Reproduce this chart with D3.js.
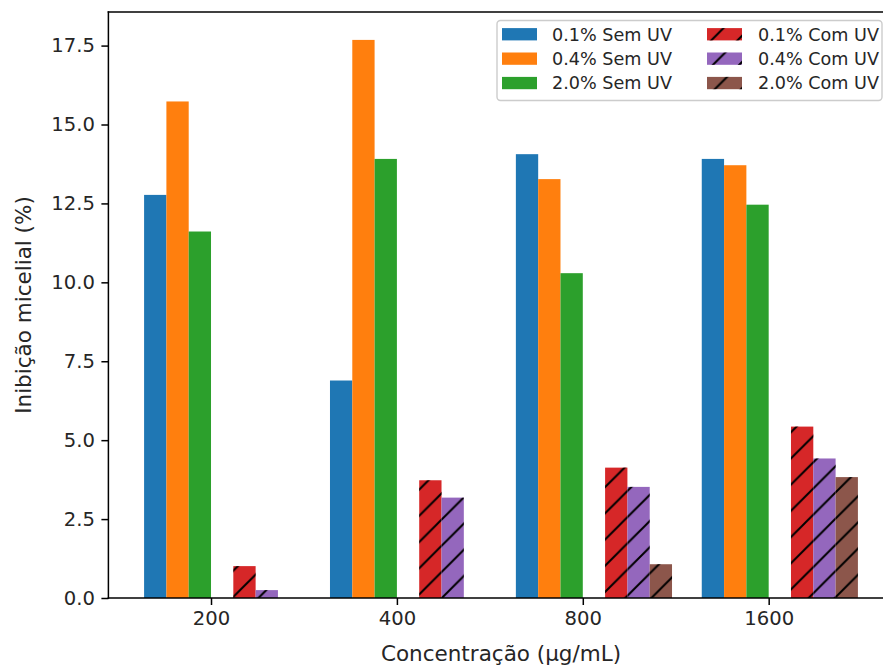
<!DOCTYPE html>
<html>
<head>
<meta charset="utf-8">
<script src="https://cdn.jsdelivr.net/npm/d3@7"></script>
<style>
  html, body { margin: 0; padding: 0; background: #fff; }
  svg { display: block; }
  text { font-family: "DejaVu Sans", sans-serif; fill: #262626; }
</style>
</head>
<body>
<svg id="chart" width="883" height="666"></svg>
<script>
// Concentrations on the x axis
const categories = ["200", "400", "800", "1600"];

// Mycelial inhibition (%) per concentration
const sem01 = [12.77, 6.89, 14.06, 13.91];
const sem04 = [15.73, 17.68, 13.27, 13.71];
const sem20 = [11.61, 13.91, 10.29, 12.46];
const com01 = [1.01, 3.73, 4.13, 5.43];
const com04 = [0.25, 3.18, 3.52, 4.42];
const com20 = [0.0, 0.0, 1.07, 3.83];

const yTicks = [0, 2.5, 5, 7.5, 10, 12.5, 15, 17.5];

const seriesNames = ["0.1% Sem UV", "0.4% Sem UV", "2.0% Sem UV",
                     "0.1% Com UV", "0.4% Com UV", "2.0% Com UV"];
const seriesValues = [sem01, sem04, sem20, com01, com04, com20];
const seriesColors = ["#1f77b4", "#ff7f0e", "#2ca02c", "#d62728", "#9467bd", "#8c564b"];
const seriesHatched = [false, false, false, true, true, true];
const seriesOffsets = [-3, -2, -1, 1, 2, 3];   // bar left edge, in bar widths from the tick
const barWidth = 0.12;

const svg = d3.select("#chart");

const plot = { left: 108.4, right: 893.6, top: 12, bottom: 598 };

// x: category index; padded 5% around the bar extent
const xMinData = -3 * barWidth, xMaxData = 3 + 4 * barWidth;
const xPad = 0.05 * (xMaxData - xMinData);
const x = d3.scaleLinear()
  .domain([xMinData - xPad, xMaxData + xPad])
  .range([plot.left, plot.right]);

const yMax = d3.max(seriesValues.flat()) * 1.05;
const y = d3.scaleLinear().domain([0, yMax]).range([plot.bottom, plot.top]);

// Diagonal hatch pattern, shared across bars so lines run continuously
const P = 26.2;
const defs = svg.append("defs");
const pat = defs.append("pattern")
  .attr("id", "hatch")
  .attr("patternUnits", "userSpaceOnUse")
  .attr("width", P).attr("height", P)
  .attr("patternTransform", "translate(18,0)");
pat.append("path")
  .attr("d", `M-1,${P + 1}L${P + 1},-1M${-P / 2 - 1},${P / 2 + 1}L${P / 2 + 1},${-P / 2 - 1}M${P / 2 - 1},${1.5 * P + 1}L${1.5 * P + 1},${P / 2 - 1}`)
  .attr("stroke", "#000").attr("stroke-width", 2).attr("fill", "none");

defs.append("clipPath").attr("id", "plotclip")
  .append("rect")
  .attr("x", plot.left).attr("y", plot.top)
  .attr("width", plot.right - plot.left).attr("height", plot.bottom - plot.top);

// Bars
const barsG = svg.append("g").attr("clip-path", "url(#plotclip)");
seriesValues.forEach((vals, si) => {
  const g = barsG.append("g");
  vals.forEach((v, ci) => {
    const x0 = x(ci + seriesOffsets[si] * barWidth);
    const x1 = x(ci + (seriesOffsets[si] + 1) * barWidth);
    g.append("rect")
      .attr("x", x0).attr("y", y(v))
      .attr("width", x1 - x0).attr("height", y(0) - y(v))
      .attr("fill", seriesColors[si]);
    if (seriesHatched[si] && v > 0) {
      g.append("rect")
        .attr("x", x0).attr("y", y(v))
        .attr("width", x1 - x0).attr("height", y(0) - y(v))
        .attr("fill", "url(#hatch)");
    }
  });
});

// Axes
const tickFont = 19.6;
const yAxis = d3.axisLeft(y).tickValues(yTicks).tickFormat(d3.format(".1f"))
  .tickSize(7).tickPadding(6.5);
const yG = svg.append("g").attr("transform", `translate(${plot.left},0)`).call(yAxis);

const xAxis = d3.axisBottom(x).tickValues(d3.range(categories.length))
  .tickFormat(i => categories[i]).tickSize(7).tickPadding(6.5);
const xG = svg.append("g").attr("transform", `translate(0,${plot.bottom})`).call(xAxis);

[yG, xG].forEach(g => {
  g.select(".domain").remove();
  g.selectAll(".tick line").attr("stroke", "#000").attr("stroke-width", 1.5);
  g.selectAll(".tick text").attr("fill", "#262626")
    .style("font-family", "DejaVu Sans").style("font-size", tickFont + "px");
});

// Spines
const spines = svg.append("g").attr("stroke", "#000").attr("stroke-width", 1.5)
  .attr("fill", "none").attr("stroke-linecap", "square");
spines.append("line").attr("x1", plot.left).attr("x2", plot.left).attr("y1", plot.top).attr("y2", plot.bottom);
spines.append("line").attr("x1", plot.left).attr("x2", plot.right).attr("y1", plot.bottom).attr("y2", plot.bottom);
spines.append("line").attr("x1", plot.left).attr("x2", plot.right).attr("y1", plot.top).attr("y2", plot.top);
spines.append("line").attr("x1", plot.right).attr("x2", plot.right).attr("y1", plot.top).attr("y2", plot.bottom);

// Axis titles
const labelFont = 21.5;
svg.append("text")
  .attr("x", (plot.left + plot.right) / 2).attr("y", 661)
  .attr("text-anchor", "middle")
  .style("font-size", labelFont + "px")
  .text("Concentração (µg/mL)");

svg.append("text")
  .attr("transform", `translate(31,${(plot.top + plot.bottom) / 2}) rotate(-90)`)
  .attr("text-anchor", "middle")
  .style("font-size", labelFont + "px")
  .text("Inibição micelial (%)");

// Legend, two columns
const legFont = 17.6;
const leg = svg.append("g");
leg.append("rect")
  .attr("x", 497).attr("y", 20.5).attr("width", 385).attr("height", 80)
  .attr("rx", 3.5).attr("ry", 3.5)
  .attr("fill", "#fff").attr("fill-opacity", 0.8)
  .attr("stroke", "#cccccc").attr("stroke-width", 1.4);

const colHandleX = [502, 707];
const colTextX = [552, 758];
const rowCenter = [34.3, 58.7, 83.1];
seriesNames.forEach((name, si) => {
  const col = si < 3 ? 0 : 1;
  const row = si % 3;
  const hx = colHandleX[col], cy = rowCenter[row];
  leg.append("rect")
    .attr("x", hx).attr("y", cy - 6.2).attr("width", 35).attr("height", 12.3)
    .attr("fill", seriesColors[si]);
  if (seriesHatched[si]) {
    leg.append("rect")
      .attr("x", hx).attr("y", cy - 6.2).attr("width", 35).attr("height", 12.3)
      .attr("fill", "url(#hatch)");
  }
  leg.append("text")
    .attr("x", colTextX[col]).attr("y", cy + 6.3)
    .style("font-size", legFont + "px")
    .text(name);
});
</script>
</body>
</html>
